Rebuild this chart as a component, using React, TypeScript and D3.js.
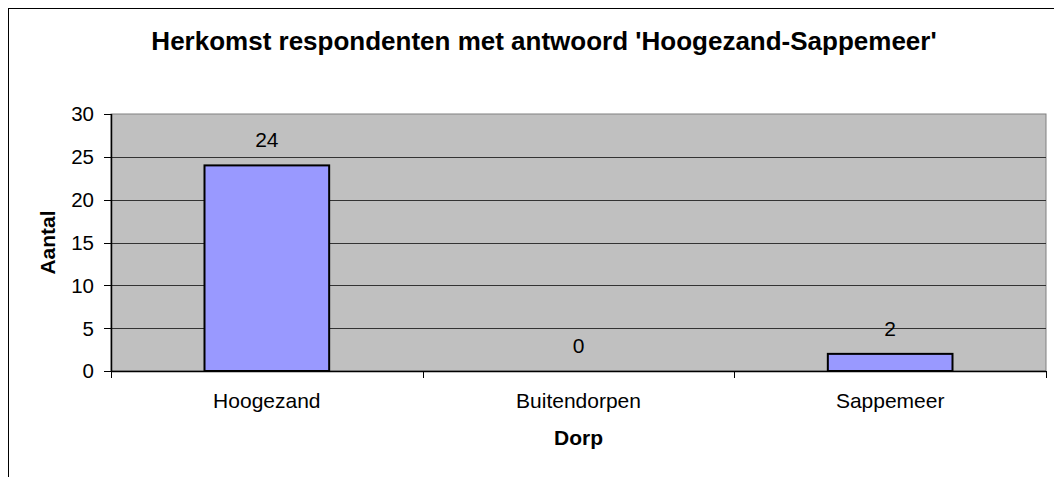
import * as d3 from "d3";

const categories = ["Hoogezand", "Buitendorpen", "Sappemeer"];
const values = [24, 0, 2];
const yTicks = [0, 5, 10, 15, 20, 25, 30];

const title = "Herkomst respondenten met antwoord 'Hoogezand-Sappemeer'";
const xTitle = "Dorp";
const yTitle = "Aantal";

const W = 1054;
const H = 477;
const plot = { left: 111, right: 1046, top: 114, bottom: 371 };
const font = "Arial, 'Liberation Sans', sans-serif";

const App = () => {
  const x = d3
    .scaleBand<string>()
    .domain(categories)
    .range([plot.left, plot.right])
    .padding(0);
  const y = d3.scaleLinear().domain([0, 30]).range([plot.bottom, plot.top]);
  const barW = x.bandwidth() * 0.4;
  const boundaries = [plot.left, ...categories.map((c) => (x(c) as number) + x.bandwidth())];

  return (
    <svg
      width={W}
      height={H}
      style={{ position: "fixed", left: 0, top: 0, background: "#fff" }}
      fontFamily={font}
    >
      {/* chart frame, runs past right and bottom edge */}
      <rect x={8.5} y={8.5} width={W + 20} height={H + 20} fill="#fff" stroke="#000" strokeWidth={1} />

      <text x={544} y={50} textAnchor="middle" fontSize={26} fontWeight="bold" fill="#000">
        {title}
      </text>

      {/* plot area */}
      <rect
        x={plot.left}
        y={plot.top}
        width={plot.right - plot.left}
        height={plot.bottom - plot.top}
        fill="#c0c0c0"
        stroke="#808080"
        strokeWidth={1}
      />
      {yTicks
        .filter((t) => t > 0 && t < 30)
        .map((t) => (
          <line
            key={"g" + t}
            x1={plot.left}
            x2={plot.right}
            y1={Math.round(y(t)) + 0.5}
            y2={Math.round(y(t)) + 0.5}
            stroke="#333"
            strokeWidth={1}
          />
        ))}

      {categories.map((c, i) => {
        const cx = (x(c) as number) + x.bandwidth() / 2;
        return (
          <g key={c}>
            {values[i] > 0 && (
              <rect
                x={cx - barW / 2}
                y={y(values[i])}
                width={barW}
                height={y(0) - y(values[i])}
                fill="#9999ff"
                stroke="#000"
                strokeWidth={2}
              />
            )}
            <text x={cx} y={y(values[i]) - 18} textAnchor="middle" fontSize={21} fill="#000">
              {values[i]}
            </text>
            <text x={cx} y={408} textAnchor="middle" fontSize={21} fill="#000">
              {c}
            </text>
          </g>
        );
      })}

      {/* axes */}
      <line x1={plot.left + 0.5} x2={plot.left + 0.5} y1={plot.top} y2={plot.bottom} stroke="#000" strokeWidth={1.5} />
      <line x1={plot.left} x2={plot.right} y1={plot.bottom + 0.5} y2={plot.bottom + 0.5} stroke="#000" strokeWidth={1.5} />
      {yTicks.map((t) => (
        <g key={"t" + t}>
          <line x1={104} x2={plot.left} y1={Math.round(y(t)) + 0.5} y2={Math.round(y(t)) + 0.5} stroke="#000" />
          <text x={94} y={y(t)} dy="0.36em" textAnchor="end" fontSize={20.5} fill="#000">
            {t}
          </text>
        </g>
      ))}
      {boundaries.map((b, i) => (
        <line key={"b" + i} x1={Math.round(b) + 0.5} x2={Math.round(b) + 0.5} y1={plot.bottom} y2={plot.bottom + 7} stroke="#000" />
      ))}

      <text x={(plot.left + plot.right) / 2} y={445} textAnchor="middle" fontSize={21} fontWeight="bold" fill="#000">
        {xTitle}
      </text>
      <text
        transform={`translate(55,${(plot.top + plot.bottom) / 2}) rotate(-90)`}
        textAnchor="middle"
        fontSize={21}
        fontWeight="bold"
        fill="#000"
      >
        {yTitle}
      </text>
    </svg>
  );
};

export default App;
